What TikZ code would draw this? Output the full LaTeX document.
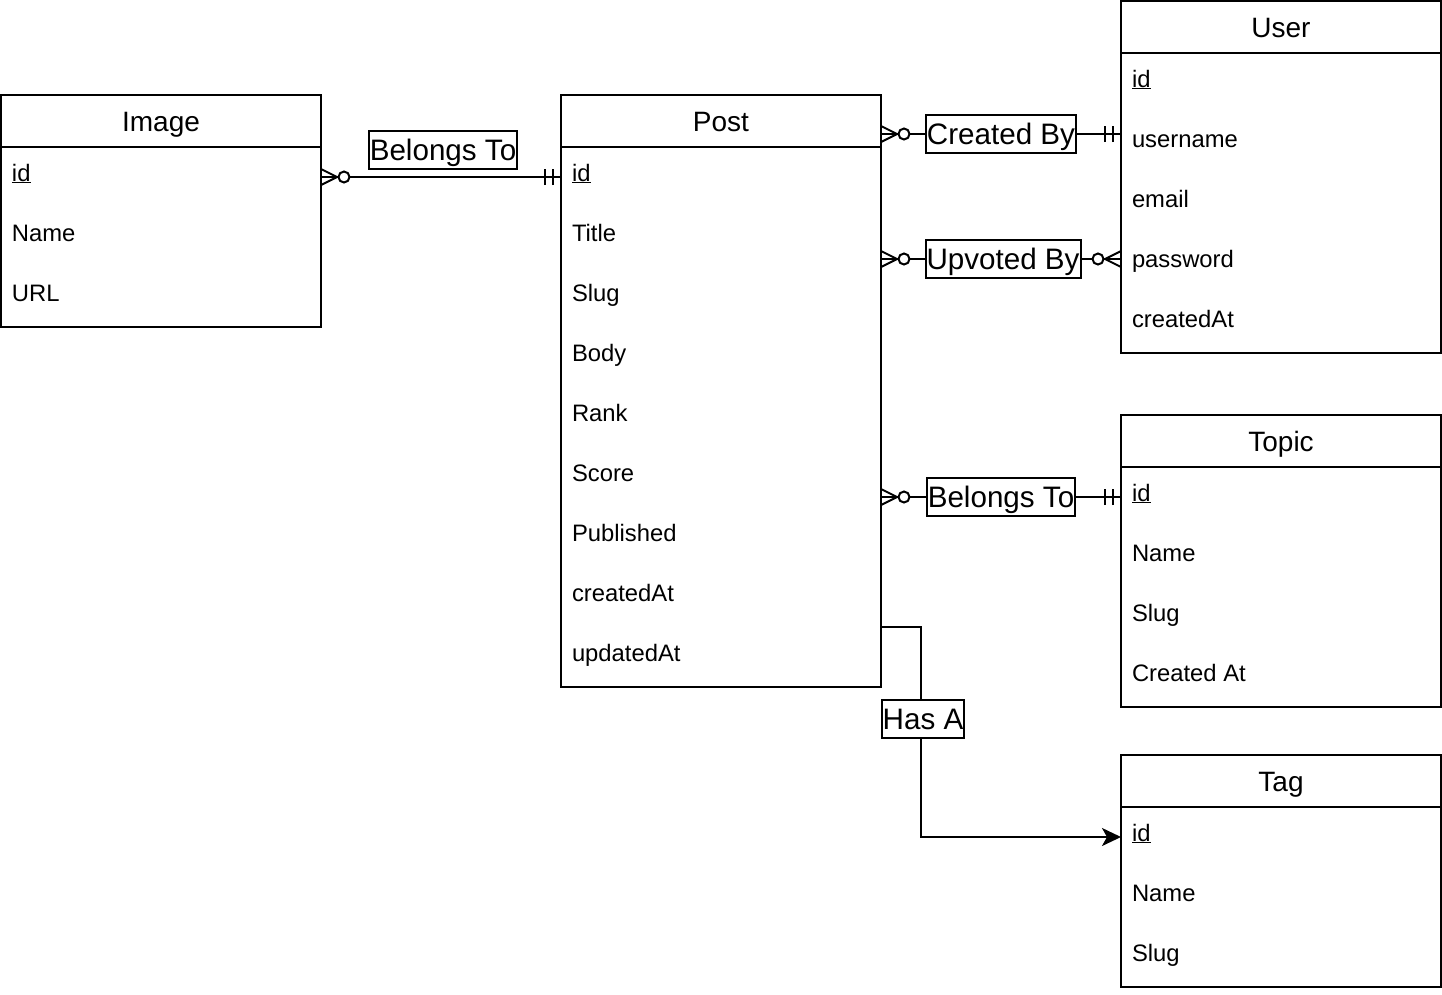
\documentclass[tikz,border=0pt]{standalone}
\usepackage{fontspec}
\setmainfont{Liberation Sans}
\usetikzlibrary{calc,arrows.meta,decorations.markings}
\begin{document}
\begin{tikzpicture}[x=1pt,y=-1pt,line width=2pt,
  header/.style={draw,minimum width=320pt,minimum height=52pt,inner sep=0pt,outer sep=0pt,
    anchor=north west,text height=20pt,text depth=0pt,font=\fontsize{28}{32}\selectfont},
  tbody/.style={draw,minimum width=320pt,inner sep=0pt,outer sep=0pt,anchor=north west},
  field/.style={anchor=base west,inner sep=0pt,font=\fontsize{23.8}{28}\selectfont},
  lbl/.style={draw,fill=white,inner xsep=1pt,inner ysep=3pt,text height=26pt,
    text depth=6pt,font=\fontsize{29.6}{34}\selectfont},
  % zero-or-many crow's foot at the start / end of a connector
  zmstart/.style={postaction={decorate,decoration={markings,
    mark=at position 0 with {\draw (0,8)--(16,0)--(0,-8);
      \draw[fill=white] (23,0) circle[radius=5.5pt];}}}},
  zmend/.style={postaction={decorate,decoration={markings,
    mark=at position 1 with {\draw (0,8)--(-16,0)--(0,-8);
      \draw[fill=white] (-23,0) circle[radius=5.5pt];}}}},
  % exactly-one double bar at the end of a connector
  oneend/.style={postaction={decorate,decoration={markings,
    mark=at position 1 with {\draw (-8,8)--(-8,-8) (-16,8)--(-16,-8);}}}}
]
\useasboundingbox (0,0) rectangle (1442,994);

% Image
\node[header] (image-h) at (1,95) {Image};
\node[tbody,minimum height=180pt] (image-b) at (image-h.south west) {};
\foreach \t [count=\i from 0] in {\underline{id},Name,URL}
  \node[field] (image-\i) at ($(image-h.south west)+(10,34+60*\i)$) {\t};

% Post
\node[header] (post-h) at (561,95) {Post};
\node[tbody,minimum height=540pt] (post-b) at (post-h.south west) {};
\foreach \t [count=\i from 0] in {\underline{id},Title,Slug,Body,Rank,Score,Published,createdAt,updatedAt}
  \node[field] (post-\i) at ($(post-h.south west)+(10,34+60*\i)$) {\t};

% User
\node[header] (user-h) at (1121,1) {User};
\node[tbody,minimum height=300pt] (user-b) at (user-h.south west) {};
\foreach \t [count=\i from 0] in {\underline{id},username,email,password,createdAt}
  \node[field] (user-\i) at ($(user-h.south west)+(10,34+60*\i)$) {\t};

% Topic
\node[header] (topic-h) at (1121,415) {Topic};
\node[tbody,minimum height=240pt] (topic-b) at (topic-h.south west) {};
\foreach \t [count=\i from 0] in {\underline{id},Name,Slug,Created At}
  \node[field] (topic-\i) at ($(topic-h.south west)+(10,34+60*\i)$) {\t};

% Tag
\node[header] (tag-h) at (1121,755) {Tag};
\node[tbody,minimum height=180pt] (tag-b) at (tag-h.south west) {};
\foreach \t [count=\i from 0] in {\underline{id},Name,Slug}
  \node[field] (tag-\i) at ($(tag-h.south west)+(10,34+60*\i)$) {\t};

% Relationships
\draw[zmstart,oneend] ([yshift=-30pt]image-h.south east) --
  node[lbl,xshift=2pt,yshift=27pt] (l-img) {Belongs To}
  ([yshift=-30pt]post-h.south west);

\draw[zmstart,oneend] ([yshift=-39pt]post-h.north east) --
  node[lbl] (l-created) {Created By}
  ([yshift=-133pt]user-h.north west);

\draw[zmstart,zmend] ([yshift=-164pt]post-h.north east) --
  node[lbl,xshift=2pt] (l-upvoted) {Upvoted By}
  ([yshift=-258pt]user-h.north west);

\draw[zmstart,oneend] ([yshift=-402pt]post-h.north east) --
  node[lbl] (l-topic) {Belongs To}
  ([yshift=-82pt]topic-h.north west);

\draw[-{Stealth[length=19pt,width=18pt,inset=5pt]}]
  ([yshift=-532pt]post-h.north east) -- ++(40,0) |-
  node[lbl,pos=0.22,xshift=2pt] (l-has) {Has A}
  ([yshift=-82pt]tag-h.north west);
\end{tikzpicture}
\end{document}
